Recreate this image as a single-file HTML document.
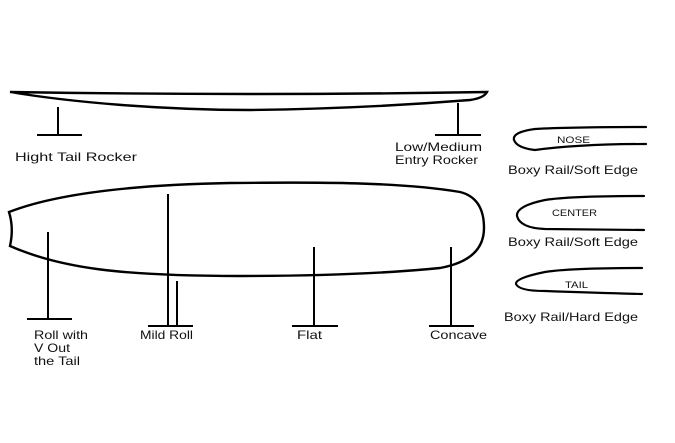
<!DOCTYPE html>
<html><head><meta charset="utf-8"><style>
html,body{margin:0;padding:0;background:#fff;}
svg{display:block}
text{font-family:"Liberation Sans",sans-serif;fill:#111;}
</style></head><body>
<svg width="675" height="443" viewBox="0 0 675 443" xmlns="http://www.w3.org/2000/svg">
<g fill="none" stroke="#000" stroke-width="2.2" stroke-linecap="round">
<path d="M10,92 Q250,96 487,92 Q484,98 470,100 C420,104 340,109 250,110 C160,110 70,102 10,92 Z" stroke-width="2.4"/>
<path d="M9,212 Q14,228 10,246 C60,268 120,276 240,276 C340,276 400,272 440,268 Q484,260 484,228 Q484,198 460,192 C400,182 320,182 230,183 C120,185 50,196 9,212 Z" stroke-width="2.4"/>
<path d="M646,127 Q570,127 535,129 Q512,132 514,140 Q517,148 535,150 Q580,144 646,144"/>
<path d="M644,196 Q570,196 545,200 Q516,206 517,216 Q520,228 545,229 L644,230"/>
<path d="M642,268 Q570,268 545,272 Q515,278 516,284 Q519,291 545,291 Q600,293 642,294"/>
</g>
<g stroke="#000" stroke-width="2">
<line x1="58" y1="107" x2="58" y2="135"/><line x1="37" y1="135" x2="82" y2="135"/>
<line x1="458" y1="103" x2="458" y2="135"/><line x1="435" y1="135" x2="481" y2="135"/>
<line x1="48" y1="232" x2="48" y2="319"/><line x1="27" y1="319" x2="72" y2="319"/>
<line x1="168" y1="194" x2="168" y2="326"/><line x1="177" y1="281" x2="177" y2="326"/><line x1="148" y1="326" x2="193" y2="326"/>
<line x1="314" y1="247" x2="314" y2="326"/><line x1="292" y1="326" x2="338" y2="326"/>
<line x1="451" y1="247" x2="451" y2="326"/><line x1="429" y1="326" x2="474" y2="326"/>
</g>
<g font-size="12" lengthAdjust="spacingAndGlyphs">
<text x="15" y="161" textLength="122" lengthAdjust="spacingAndGlyphs">Hight Tail Rocker</text>
<text x="395" y="151" textLength="87" lengthAdjust="spacingAndGlyphs">Low/Medium</text>
<text x="395" y="164" textLength="83" lengthAdjust="spacingAndGlyphs">Entry Rocker</text>
<text x="34" y="339" textLength="54" lengthAdjust="spacingAndGlyphs">Roll with</text>
<text x="34" y="352" textLength="36" lengthAdjust="spacingAndGlyphs">V Out</text>
<text x="34" y="365" textLength="46" lengthAdjust="spacingAndGlyphs">the Tail</text>
<text x="140" y="339" textLength="53" lengthAdjust="spacingAndGlyphs">Mild Roll</text>
<text x="297" y="339" textLength="25" lengthAdjust="spacingAndGlyphs">Flat</text>
<text x="430" y="339" textLength="57" lengthAdjust="spacingAndGlyphs">Concave</text>
<text x="508" y="174" textLength="130" lengthAdjust="spacingAndGlyphs">Boxy Rail/Soft Edge</text>
<text x="508" y="246" textLength="130" lengthAdjust="spacingAndGlyphs">Boxy Rail/Soft Edge</text>
<text x="504" y="321" textLength="134" lengthAdjust="spacingAndGlyphs">Boxy Rail/Hard Edge</text>
</g>
<g font-size="9">
<text x="557" y="143" textLength="33" lengthAdjust="spacingAndGlyphs">NOSE</text>
<text x="552" y="216" textLength="45" lengthAdjust="spacingAndGlyphs">CENTER</text>
<text x="565" y="288" textLength="23" lengthAdjust="spacingAndGlyphs">TAIL</text>
</g>
</svg>
</body></html>
